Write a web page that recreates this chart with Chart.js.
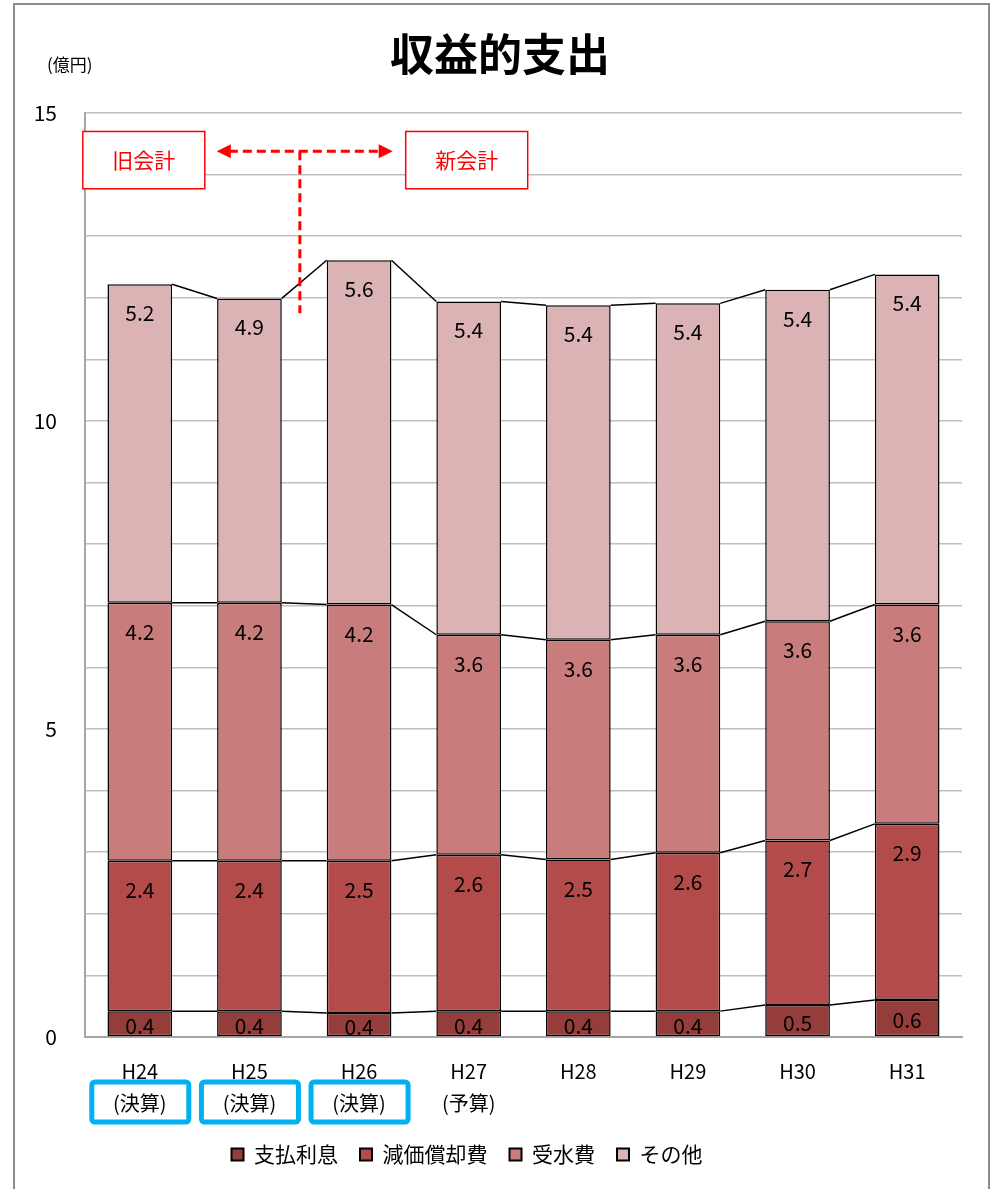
<!DOCTYPE html>
<html>
<head>
<meta charset="utf-8">
<script src="https://cdn.jsdelivr.net/npm/chart.js@4.4.1/dist/chart.umd.min.js"></script>
<style>
  html, body { margin: 0; padding: 0; background: #fff; }
  #wrap { width: 992px; height: 1189px; position: relative; }
</style>
</head>
<body>
<div id="wrap"><canvas id="chart"></canvas></div>
<script>
// 収益的支出 (億円)
const categories = [['H24', '(決算)'], ['H25', '(決算)'], ['H26', '(決算)'], ['H27', '(予算)'], 'H28', 'H29', 'H30', 'H31']
const kessanIdx = [0, 1, 2]

const shiharaiRisoku = [0.42, 0.42, 0.39, 0.42, 0.42, 0.42, 0.52, 0.60]
const genkaShokyaku = [2.44, 2.44, 2.47, 2.54, 2.46, 2.57, 2.67, 2.86]
const jusuihi = [4.19, 4.19, 4.16, 3.57, 3.57, 3.54, 3.56, 3.56]
const sonota = [5.17, 4.94, 5.59, 5.41, 5.43, 5.38, 5.38, 5.36]

const shiharaiLabels = ['0.4', '0.4', '0.4', '0.4', '0.4', '0.4', '0.5', '0.6']
const genkaLabels = ['2.4', '2.4', '2.5', '2.6', '2.5', '2.6', '2.7', '2.9']
const jusuiLabels = ['4.2', '4.2', '4.2', '3.6', '3.6', '3.6', '3.6', '3.6']
const sonotaLabels = ['5.2', '4.9', '5.6', '5.4', '5.4', '5.4', '5.4', '5.4']

const yTicks = [0, 5, 10, 15]

const FONT = '"Noto Sans CJK JP", "Noto Sans", sans-serif'

function ds(label, data, color, texts) {
	return {
		label: label,
		data: data,
		texts: texts,
		backgroundColor: color,
		borderColor: '#000',
		borderWidth: 1.5,
		borderSkipped: false,
		categoryPercentage: 1,
		barPercentage: 0.59,
	}
}

// 枠・タイトル・単位
const framePlugin = {
	id: 'frame',
	afterLayout(chart) {
		// 凡例を少し左へ
		chart.legend.left -= 14
		chart.legend.right -= 14
	},
	beforeDraw(chart) {
		const ctx = chart.ctx
		ctx.save()
		ctx.fillStyle = '#fff'
		ctx.fillRect(0, 0, chart.width, chart.height)
		ctx.strokeStyle = '#8c8c8c'
		ctx.lineWidth = 2
		ctx.strokeRect(14, 4, 975, 1200)
		ctx.fillStyle = '#000'
		ctx.textAlign = 'center'
		ctx.textBaseline = 'middle'
		ctx.font = 'bold 44px ' + FONT
		ctx.fillText('収益的支出', 500, 54)
		ctx.font = '17px ' + FONT
		ctx.textAlign = 'left'
		ctx.fillText('(億円)', 47, 65)
		ctx.restore()
	}
}

// 区分線 + データラベル
const seriesLinesPlugin = {
	id: 'seriesLines',
	afterDatasetsDraw(chart) {
		const ctx = chart.ctx
		const n = chart.data.labels.length
		ctx.save()
		ctx.strokeStyle = '#000'
		ctx.lineWidth = 1.5
		chart.data.datasets.forEach((d, di) => {
			const meta = chart.getDatasetMeta(di)
			for (let i = 0; i < n - 1; i++) {
				const a = meta.data[i], b = meta.data[i + 1]
				ctx.beginPath()
				ctx.moveTo(a.x + a.width / 2, a.y)
				ctx.lineTo(b.x - b.width / 2, b.y)
				ctx.stroke()
			}
		})
		ctx.fillStyle = '#000'
		ctx.font = '21px ' + FONT
		ctx.textAlign = 'center'
		ctx.textBaseline = 'middle'
		chart.data.datasets.forEach((d, di) => {
			const meta = chart.getDatasetMeta(di)
			meta.data.forEach((bar, i) => {
				const h = bar.base - bar.y
				const y = h < 60 ? bar.y + h / 2 + 2 : bar.y + 29
				ctx.fillText(d.texts[i], bar.x, y)
			})
		})
		ctx.restore()
	}
}

// 旧会計・新会計 / (決算) 枠
const notePlugin = {
	id: 'notes',
	afterDraw(chart) {
		const ctx = chart.ctx
		const x = chart.scales.x, y = chart.scales.y
		ctx.save()

		// (決算) boxes
		ctx.strokeStyle = '#00b0f0'
		ctx.lineWidth = 5
		kessanIdx.forEach(i => {
			const cx = x.getPixelForValue(i)
			ctx.beginPath()
			ctx.roundRect(cx - 48, 1082, 97, 40, 3)
			ctx.stroke()
		})

		// boxes
		const top = y.getPixelForValue(14.7), bot = y.getPixelForValue(13.77)
		const boxes = [[0, '旧会計', 4], [3, '新会計', -2]]
		ctx.lineWidth = 1.5
		ctx.strokeStyle = '#ff0000'
		ctx.font = '21px ' + FONT
		ctx.textAlign = 'center'
		ctx.textBaseline = 'middle'
		boxes.forEach(([i, t, off]) => {
			const cx = x.getPixelForValue(i) + off
			ctx.fillStyle = '#fff'
			ctx.fillRect(cx - 61, top, 122, bot - top)
			ctx.strokeRect(cx - 61, top, 122, bot - top)
			ctx.fillStyle = '#ff0000'
			ctx.fillText(t, cx, (top + bot) / 2)
		})

		// arrows
		const ay = y.getPixelForValue(14.38)
		const x1 = x.getPixelForValue(0) + 4 + 61 + 12
		const x2 = x.getPixelForValue(3) - 2 - 61 - 13
		ctx.strokeStyle = '#ff0000'
		ctx.fillStyle = '#ff0000'
		ctx.lineWidth = 3
		ctx.setLineDash([9, 5])
		ctx.beginPath()
		ctx.moveTo(x1 + 12, ay)
		ctx.lineTo(x2 - 12, ay)
		const mx = x.getPixelForValue(1.46)
		ctx.moveTo(mx, ay)
		ctx.lineTo(mx, y.getPixelForValue(11.75))
		ctx.stroke()
		ctx.setLineDash([])
		ctx.beginPath()
		ctx.moveTo(x1, ay)
		ctx.lineTo(x1 + 14, ay - 7)
		ctx.lineTo(x1 + 14, ay + 7)
		ctx.closePath()
		ctx.moveTo(x2, ay)
		ctx.lineTo(x2 - 14, ay - 7)
		ctx.lineTo(x2 - 14, ay + 7)
		ctx.closePath()
		ctx.fill()
		ctx.restore()
	}
}

function chartInit() {
	const chartItem = document.getElementById('chart')
	new Chart(chartItem, {
		type: 'bar',
		data: {
			labels: categories,
			datasets: [
				ds('支払利息', shiharaiRisoku, '#953d3b', shiharaiLabels),
				ds('減価償却費', genkaShokyaku, '#b24b49', genkaLabels),
				ds('受水費', jusuihi, '#c87d7c', jusuiLabels),
				ds('その他', sonota, '#dbb3b4', sonotaLabels),
			]
		},
		options: {
			responsive: true,
			maintainAspectRatio: false,
			animation: false,
			layout: { padding: { top: 113, left: 0, right: 30, bottom: 14 } },
			scales: {
				x: {
					stacked: true,
					grid: { display: false, drawTicks: false },
					border: { color: '#a6a6a6', width: 2 },
					ticks: {
						color: '#000',
						padding: 18,
						maxRotation: 0,
						autoSkip: false,
						font: { family: FONT, size: 20, lineHeight: 1.6 },
					},
					afterFit(scale) { scale.height = 85 }
				},
				y: {
					stacked: true,
					min: 0,
					max: 15,
					grid: { color: '#bfbfbf', lineWidth: 1.5, drawTicks: false },
					border: { color: '#a6a6a6', width: 2 },
					ticks: {
						stepSize: 1,
						color: '#000',
						padding: 28,
						font: { family: FONT, size: 21 },
						callback: v => yTicks.includes(v) ? String(v) : ''
					},
					afterFit(scale) { scale.width = 85 }
				}
			},
			plugins: {
				legend: {
					position: 'bottom',
					labels: {
						color: '#000',
						boxWidth: 12,
						boxHeight: 12,
						padding: 22,
						font: { family: FONT, size: 21 },
						generateLabels(chart) {
							return chart.data.datasets.map((d, i) => ({
								text: d.label,
								fillStyle: d.backgroundColor,
								strokeStyle: '#000',
								lineWidth: 2,
								datasetIndex: i,
								fontColor: '#000'
							}))
						}
					}
				},
				title: { display: false },
				tooltip: { enabled: false }
			}
		},
		plugins: [framePlugin, seriesLinesPlugin, notePlugin]
	})
}
window.addEventListener('load', chartInit)
</script>
</body>
</html>
